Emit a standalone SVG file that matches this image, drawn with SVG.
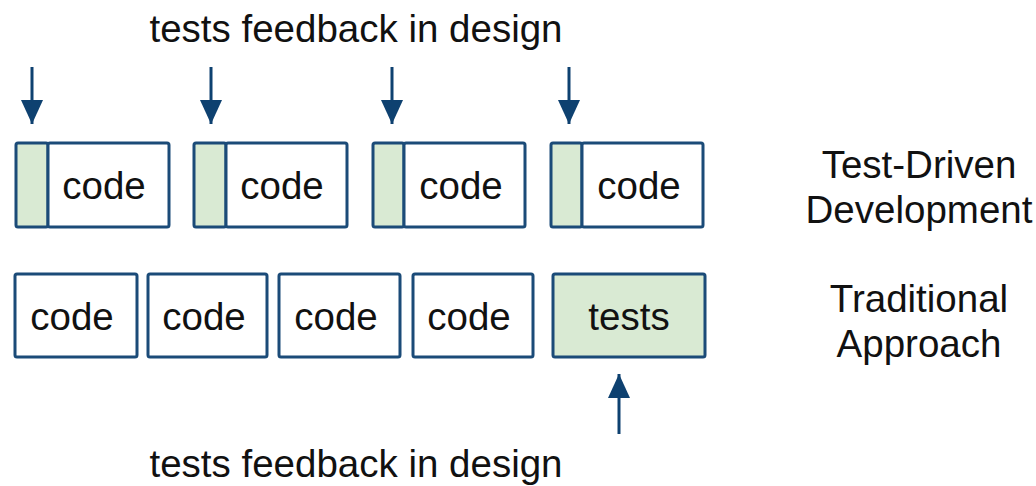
<svg xmlns="http://www.w3.org/2000/svg" width="1036" height="486" viewBox="0 0 1036 486">
<style>
.box{fill:#ffffff;stroke:#1b4b78;stroke-width:3}
.test{fill:#d9ead3;stroke:#1b4b78;stroke-width:3}
.t{font-family:"Liberation Sans",Arial,sans-serif;font-size:38.5px;fill:#111111;text-anchor:middle}
.arr{stroke:#0e4170;stroke-width:3;fill:none}
</style>
<defs>
<marker id="ah" viewBox="0 0 24 22" refX="24" refY="11" markerWidth="24" markerHeight="22" markerUnits="userSpaceOnUse" orient="auto">
<path d="M0,0 L24,11 L0,22 Z" fill="#0e4170"/>
</marker>
</defs>
<rect width="1036" height="486" fill="#ffffff"/>
<text class="t" x="356" y="42">tests feedback in design</text>
<text class="t" x="356" y="477">tests feedback in design</text>
<g id="tdd1"><rect class="test" x="16" y="143" width="32" height="84" rx="2"/><rect class="box" x="48" y="143" width="121" height="84" rx="2"/><text class="t" x="104" y="199">code</text></g>
<g id="tdd2"><rect class="test" x="194" y="143" width="32" height="84" rx="2"/><rect class="box" x="226" y="143" width="121" height="84" rx="2"/><text class="t" x="282" y="199">code</text></g>
<g id="tdd3"><rect class="test" x="373" y="143" width="31" height="84" rx="2"/><rect class="box" x="404" y="143" width="121" height="84" rx="2"/><text class="t" x="461" y="199">code</text></g>
<g id="tdd4"><rect class="test" x="551" y="143" width="31" height="84" rx="2"/><rect class="box" x="582" y="143" width="121" height="84" rx="2"/><text class="t" x="639" y="199">code</text></g>
<g id="trad1"><rect class="box" x="15" y="274" width="122" height="83" rx="2"/><text class="t" x="72" y="330">code</text></g>
<g id="trad2"><rect class="box" x="148" y="274" width="119" height="83" rx="2"/><text class="t" x="204" y="330">code</text></g>
<g id="trad3"><rect class="box" x="279" y="274" width="121" height="83" rx="2"/><text class="t" x="336" y="330">code</text></g>
<g id="trad4"><rect class="box" x="413" y="274" width="120" height="83" rx="2"/><text class="t" x="469" y="330">code</text></g>
<g id="trad5"><rect class="test" x="553" y="274" width="152" height="83" rx="2"/><text class="t" x="629" y="330">tests</text></g>
<g id="label-tdd"><text class="t" x="919" y="178">Test-Driven</text><text class="t" x="919" y="223">Development</text></g>
<g id="label-trad"><text class="t" x="919" y="312">Traditional</text><text class="t" x="919" y="357">Approach</text></g>
<g id="connectors">
<line class="arr" x1="32" y1="67" x2="32" y2="124" marker-end="url(#ah)"/>
<line class="arr" x1="211" y1="67" x2="211" y2="124" marker-end="url(#ah)"/>
<line class="arr" x1="392" y1="67" x2="392" y2="124" marker-end="url(#ah)"/>
<line class="arr" x1="569" y1="67" x2="569" y2="124" marker-end="url(#ah)"/>
<line class="arr" x1="619" y1="434" x2="619" y2="374" marker-end="url(#ah)"/>
</g>
</svg>
